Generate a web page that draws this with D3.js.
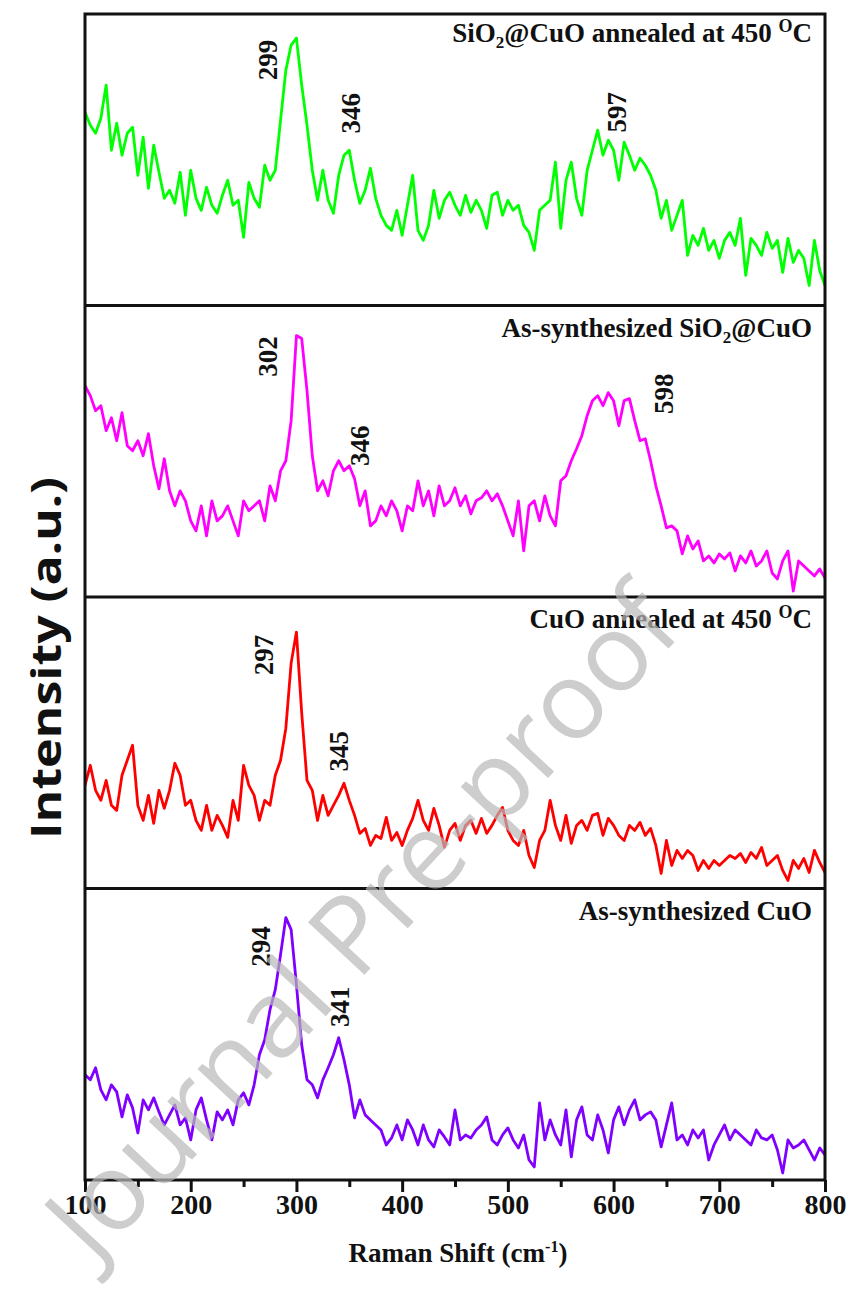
<!DOCTYPE html>
<html lang="en">
<head>
<meta charset="UTF-8">
<title>Raman spectra</title>
<style>
  body { margin: 0; background: #fff; }
  .serif { font-family: "Times New Roman", "Liberation Serif", Times, serif; font-weight: bold; fill: #111; }
</style>
</head>
<body>
<script src="https://d3js.org/d3.v7.min.js"></script>
<div id="chart"></div>
<script>
// raman shift grid (cm-1), every 5 cm-1 from 100 to 800
var shifts = d3.range(100, 801, 5)

// intensities (a.u.), one value per grid point
var sio2CuoAnnealed = [
  193,180,172,187,220,155,182,150,172,178,130,168,117,160,133,107,115,102,133,90,
  135,107,95,118,100,92,110,125,100,105,68,123,107,98,140,125,135,185,235,260,
  267,220,180,135,105,135,105,92,130,150,155,125,102,115,137,107,90,80,75,95,
  70,100,130,75,65,80,115,87,105,113,100,90,110,93,105,95,77,110,113,90,
  105,95,100,80,73,55,95,100,105,143,77,125,143,107,90,135,155,175,150,165,
  155,125,163,150,135,147,140,130,115,87,105,75,90,105,50,70,60,77,55,65,
  47,65,73,60,87,30,67,60,50,73,57,65,33,67,43,55,47,20,65,35,
  20]
var asSynSio2Cuo = [
  211,201,186,191,166,179,156,184,151,146,156,141,163,131,108,138,106,91,106,96,
  76,66,91,61,96,76,81,91,76,61,96,86,91,96,76,111,96,126,136,176,
  261,258,206,141,106,116,101,126,136,126,131,118,91,106,71,76,91,81,96,86,
  66,91,86,116,91,106,81,111,91,96,109,91,101,83,96,99,106,96,103,91,
  76,61,96,46,91,96,76,101,81,71,116,121,136,148,161,181,196,201,191,204,
  196,171,196,198,176,156,158,136,111,91,69,71,66,43,61,48,56,36,41,34,
  43,38,44,26,41,34,46,31,36,46,24,18,36,46,6,36,31,26,21,28,
  19]
var cuoAnnealed = [
  103,123,98,88,108,83,78,113,128,143,83,68,93,65,98,80,98,125,113,83,
  88,68,58,83,58,73,63,51,88,68,123,103,93,68,88,83,113,128,160,225,
  256,175,108,98,68,93,73,83,93,105,88,73,55,60,43,53,50,71,48,56,
  43,58,70,88,68,58,80,63,41,58,65,48,63,68,55,70,55,63,73,81,
  58,48,43,58,33,21,48,58,88,63,48,73,45,63,68,58,73,75,53,70,
  63,53,48,63,58,66,53,60,43,15,48,23,38,30,38,33,18,28,20,28,
  23,28,33,30,35,26,36,30,41,23,28,33,18,8,28,20,30,16,38,26,
  16]
var asSynCuo = [
  105,100,112,90,80,95,88,63,85,72,47,80,70,82,68,55,65,75,55,62,
  40,70,82,60,40,68,60,70,55,80,87,75,95,125,140,170,190,225,262,250,
  195,135,100,95,82,100,112,125,142,120,95,62,80,65,60,55,50,35,42,55,
  40,60,50,35,55,40,33,50,43,35,70,40,45,42,50,55,63,40,35,45,
  52,40,32,45,20,13,77,40,60,45,35,70,23,60,73,45,40,65,50,27,
  60,73,55,70,80,60,65,68,60,33,55,77,40,45,35,50,42,50,20,35,
  45,55,40,50,45,40,35,50,42,40,45,30,7,40,32,35,40,30,20,32,
  25]

var panelNames = ["sio2CuoAnnealed", "asSynSio2Cuo", "cuoAnnealed", "asSynCuo"]
var panelColors = ["#00ff00", "#ff00ff", "#ff0000", "#7f00ff"]

// peak labels: text, shift where the label sits, height where it sits
var peakLabels = [
  [["299", 273, 245], ["346", 351, 192], ["597", 603, 193]],
  [["302", 273, 240], ["346", 360, 151], ["598", 647, 203]],
  [["297", 269, 233], ["345", 340, 137]],
  [["294", 266, 233], ["341", 341, 173]]
]
var majorTicks = [100, 200, 300, 400, 500, 600, 700, 800]
var minorTicks = [150, 250, 350, 450, 550, 650, 750]

var series = [sio2CuoAnnealed, asSynSio2Cuo, cuoAnnealed, asSynCuo]

var width = 853, height = 1292
var plotL = 85, plotR = 825, plotT = 14, plotB = 1180
var panelH = (plotB - plotT) / 4
var titleDrop = [28, 31, 31, 31]

var svg = d3.select("#chart").append("svg")
  .attr("width", width)
  .attr("height", height)

var x = d3.scaleLinear().domain([100, 800]).range([plotL, plotR])

function addTitle(g, i, tx, ty) {
  var t = g.append("text").attr("class", "serif")
    .attr("x", tx).attr("y", ty)
    .attr("text-anchor", "end")
    .style("font-size", "27px")
  if (i == 0) {
    t.append("tspan").text("SiO")
    t.append("tspan").attr("dy", 6).style("font-size", "17px").text("2")
    t.append("tspan").attr("dy", -6).text("@CuO annealed at 450 ")
    t.append("tspan").attr("dy", -10).style("font-size", "18px").text("O")
    t.append("tspan").attr("dy", 10).text("C")
  } else if (i == 1) {
    t.append("tspan").text("As-synthesized SiO")
    t.append("tspan").attr("dy", 6).style("font-size", "17px").text("2")
    t.append("tspan").attr("dy", -6).text("@CuO")
  } else if (i == 2) {
    t.append("tspan").text("CuO annealed at 450 ")
    t.append("tspan").attr("dy", -10).style("font-size", "18px").text("O")
    t.append("tspan").attr("dy", 10).text("C")
  } else {
    t.append("tspan").text("As-synthesized CuO")
  }
}

var defs = svg.append("defs")

series.forEach(function(vals, i) {
  var pTop = plotT + i * panelH, pBot = pTop + panelH
  var y = d3.scaleLinear().domain([0, 291]).range([pBot, pTop])

  defs.append("clipPath").attr("id", "clip" + i)
    .append("rect").attr("x", plotL).attr("y", pTop)
    .attr("width", plotR - plotL).attr("height", panelH)

  var g = svg.append("g").attr("class", panelNames[i])

  var line = d3.line()
    .x(function(d, k) { return x(shifts[k]) })
    .y(function(d) { return y(d) })

  g.append("path")
    .datum(vals)
    .attr("clip-path", "url(#clip" + i + ")")
    .attr("fill", "none")
    .attr("stroke", panelColors[i])
    .attr("stroke-width", 2.8)
    .attr("stroke-linejoin", "round")
    .attr("d", line)

  peakLabels[i].forEach(function(p) {
    g.append("text").attr("class", "serif")
      .attr("transform", "translate(" + x(p[1]) + "," + y(p[2]) + ") rotate(-90)")
      .attr("text-anchor", "middle")
      .attr("dy", "0.35em")
      .style("font-size", "27px")
      .text(p[0])
  })

  addTitle(g, i, plotR - 13, pTop + titleDrop[i])

  if (i > 0) {
    svg.append("line")
      .attr("x1", plotL).attr("x2", plotR)
      .attr("y1", pTop).attr("y2", pTop)
      .attr("stroke", "#111").attr("stroke-width", 3)
  }
})

// frame
svg.append("rect")
  .attr("x", plotL).attr("y", plotT)
  .attr("width", plotR - plotL).attr("height", plotB - plotT)
  .attr("fill", "none").attr("stroke", "#111").attr("stroke-width", 3)

// x axis
var xAxis = d3.axisBottom(x).tickValues(majorTicks).tickSize(12).tickPadding(2)
var ax = svg.append("g").attr("transform", "translate(0," + plotB + ")").call(xAxis)
ax.select(".domain").remove()
ax.selectAll(".tick line").attr("stroke", "#111").attr("stroke-width", 3)
ax.selectAll(".tick text").attr("class", "serif").style("font-size", "28px")

var xMinor = d3.axisBottom(x).tickValues(minorTicks).tickSize(7).tickFormat("")
var axm = svg.append("g").attr("transform", "translate(0," + plotB + ")").call(xMinor)
axm.select(".domain").remove()
axm.selectAll(".tick line").attr("stroke", "#111").attr("stroke-width", 3)

// axis titles
var xt = svg.append("text").attr("class", "serif")
  .attr("x", (plotL + plotR) / 2 + 3).attr("y", 1262)
  .attr("text-anchor", "middle")
  .style("font-size", "27px")
xt.append("tspan").text("Raman Shift (cm")
xt.append("tspan").attr("dy", -10).style("font-size", "16px").text("-1")
xt.append("tspan").attr("dy", 10).text(")")

svg.append("text")
  .attr("transform", "translate(61,658) rotate(-90)")
  .attr("text-anchor", "middle")
  .attr("textLength", 362)
  .attr("lengthAdjust", "spacingAndGlyphs")
  .style("font-family", "'Open Sans', sans-serif")
  .style("font-weight", "bold")
  .style("font-size", "42px")
  .style("fill", "#111")
  .text("Intensity (a.u.)")

// watermark
svg.append("text")
  .attr("transform", "translate(362,922) rotate(-47)")
  .attr("text-anchor", "middle")
  .attr("dy", "0.35em")
  .style("font-family", "'Open Sans', sans-serif")
  .style("font-size", "108px")
  .style("fill", "#b8b8b8")
  .style("opacity", 0.7)
  .text("Journal Pre-proof")
</script>
</body>
</html>
